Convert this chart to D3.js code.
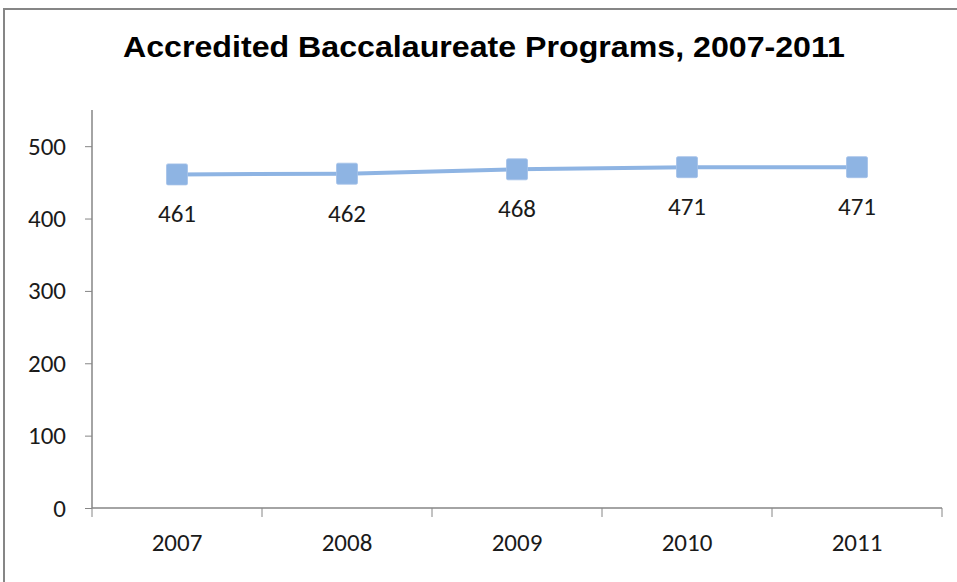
<!DOCTYPE html>
<html>
<head>
<meta charset="utf-8">
<script src="https://cdn.jsdelivr.net/npm/d3@7"></script>
<style>
  body { margin: 0; background: #fff; }
  svg { display: block; }
</style>
</head>
<body>
<svg id="chart"></svg>
<script>
const width = 957;
const height = 582;

const years = ['2007', '2008', '2009', '2010', '2011'];
const programs = [461, 462, 468, 471, 471];
const yTicks = [0, 100, 200, 300, 400, 500];

const plotLeft = 92, plotRight = 942, plotTop = 110, plotBottom = 508;

const svg = d3.select('#chart')
    .attr('width', width)
    .attr('height', height);

// outer frame (only the top and left edges show in the crop)
svg.append('rect')
    .attr('x', 4).attr('y', 9)
    .attr('width', width + 10).attr('height', height + 10)
    .attr('fill', 'none')
    .attr('stroke', '#868686')
    .attr('stroke-width', 2);

svg.append('text')
    .attr('x', 484).attr('y', 57)
    .attr('text-anchor', 'middle')
    .style('font-family', 'Liberation Sans, Arial, sans-serif')
    .style('font-weight', 'bold')
    .style('font-size', '30px')
    .attr('textLength', 722)
    .attr('lengthAdjust', 'spacingAndGlyphs')
    .text('Accredited Baccalaureate Programs, 2007-2011');

const x = d3.scaleBand().domain(years).range([plotLeft, plotRight]);
const y = d3.scaleLinear().domain([0, 550]).range([plotBottom, plotTop]);

const labelFont = 'Carlito, Calibri, "Open Sans", sans-serif';

const yAxis = svg.append('g')
    .attr('transform', `translate(${plotLeft},0)`)
    .call(d3.axisLeft(y).tickValues(yTicks).tickSize(7).tickPadding(19).tickFormat(d3.format('d')));

const xAxis = svg.append('g')
    .attr('transform', `translate(0,${plotBottom})`)
    .call(d3.axisBottom(x).tickSize(0));

xAxis.selectAll('.tick text').attr('y', 43).attr('dy', 0);

// category separators
xAxis.selectAll('.sep')
    .data(years.concat(['end']))
    .enter().append('line')
    .attr('x1', (d, i) => plotLeft + i * x.bandwidth())
    .attr('x2', (d, i) => plotLeft + i * x.bandwidth())
    .attr('y1', 0).attr('y2', 9)
    .attr('stroke', '#868686');

[xAxis, yAxis].forEach(g => {
    g.select('.domain').attr('stroke', '#868686').attr('stroke-width', 1.5);
    g.selectAll('.tick line').attr('stroke', '#868686');
    g.selectAll('.tick text')
        .attr('fill', '#1a1a1a')
        .style('font-family', labelFont)
        .style('font-size', '25px');
});
yAxis.select('.domain').attr('d', `M0,${plotTop}V${plotBottom}`);
xAxis.select('.domain').attr('d', `M${plotLeft},0H${plotRight}`);

const pts = years.map((yr, i) => ({ yr, v: programs[i] }));
const cx = d => x(d.yr) + x.bandwidth() / 2;

svg.append('path')
    .datum(pts)
    .attr('fill', 'none')
    .attr('stroke', '#8EB4E3')
    .attr('stroke-width', 4)
    .attr('d', d3.line().x(cx).y(d => y(d.v)));

svg.selectAll('.marker')
    .data(pts).enter().append('rect')
    .attr('class', 'marker')
    .attr('x', d => cx(d) - 10.5)
    .attr('y', d => y(d.v) - 10.5)
    .attr('width', 21).attr('height', 21)
    .attr('rx', 1.5)
    .attr('fill', '#8EB4E3')
    .attr('stroke', '#A4C2E8')
    .attr('stroke-width', 0.8);

svg.selectAll('.lbl')
    .data(pts).enter().append('text')
    .attr('class', 'lbl')
    .attr('x', cx)
    .attr('y', d => y(d.v) + 48)
    .attr('text-anchor', 'middle')
    .attr('fill', '#1a1a1a')
    .style('font-family', labelFont)
    .style('font-size', '25px')
    .text(d => d.v);
</script>
</body>
</html>
